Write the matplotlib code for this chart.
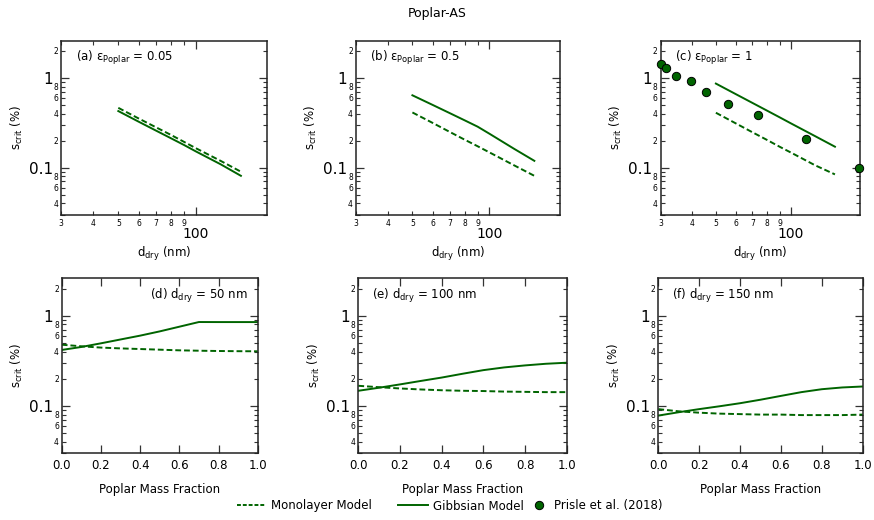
import matplotlib
matplotlib.use("Agg")
import matplotlib.pyplot as plt
from matplotlib.ticker import FixedLocator, FixedFormatter

plt.rcParams["font.family"] = ["DejaVu Sans"]
plt.rcParams["mathtext.default"] = "regular"

GREEN = "#006400"

# top row: s_crit vs dry diameter
d_model = [50, 60, 70, 80, 90, 100, 125, 150]
a_mono = [0.464, 0.353, 0.282, 0.232, 0.194, 0.165, 0.119, 0.090]
a_gibbs = [0.427, 0.325, 0.259, 0.213, 0.179, 0.152, 0.109, 0.081]
b_mono = [0.412, 0.315, 0.250, 0.205, 0.173, 0.148, 0.106, 0.081]
b_gibbs = [0.640, 0.500, 0.405, 0.337, 0.286, 0.239, 0.162, 0.119]
c_mono = [0.409, 0.312, 0.248, 0.204, 0.171, 0.147, 0.106, 0.084]
c_gibbs = [0.865, 0.661, 0.527, 0.433, 0.364, 0.311, 0.224, 0.171]

prisle_d = [30.1, 31.7, 34.5, 39.9, 45.6, 55.9, 73.5, 115, 188]
prisle_s = [1.43, 1.30, 1.05, 0.917, 0.70, 0.517, 0.384, 0.211, 0.10]

# bottom row: s_crit vs Poplar mass fraction
frac = [0.0, 0.1, 0.2, 0.3, 0.4, 0.5, 0.6, 0.7, 0.8, 0.9, 1.0]
d_gibbs = [0.417, 0.450, 0.494, 0.545, 0.601, 0.670, 0.755, 0.851, 0.850, 0.850, 0.850]
d_mono = [0.477, 0.458, 0.443, 0.434, 0.427, 0.420, 0.413, 0.409, 0.406, 0.404, 0.403]
e_gibbs = [0.147, 0.159, 0.173, 0.189, 0.206, 0.227, 0.249, 0.267, 0.281, 0.293, 0.301]
e_mono = [0.167, 0.161, 0.156, 0.152, 0.149, 0.147, 0.146, 0.144, 0.143, 0.142, 0.142]
f_gibbs = [0.078, 0.085, 0.092, 0.099, 0.107, 0.117, 0.129, 0.142, 0.153, 0.160, 0.164]
f_mono = [0.092, 0.087, 0.084, 0.082, 0.081, 0.080, 0.080, 0.079, 0.079, 0.079, 0.080]

top_labels = [r"(a) $\epsilon_{Poplar}$ = 0.05", r"(b) $\epsilon_{Poplar}$ = 0.5", r"(c) $\epsilon_{Poplar}$ = 1"]
bottom_labels = [r"(d) d$_{dry}$ = 50 nm", r"(e) d$_{dry}$ = 100 nm", r"(f) d$_{dry}$ = 150 nm"]

W, H = 874, 520
fig = plt.figure(figsize=(W / 100, H / 100), dpi=100)


def px_axes(left, right, top, bottom):
    return fig.add_axes([left / W, 1 - bottom / H, (right - left) / W, (bottom - top) / H])


top_axes = [px_axes(61.3, 266.7, 40.7, 214.5), px_axes(355.7, 560, 40.7, 214.5), px_axes(660.5, 860, 40.7, 214.5)]
bot_axes = [px_axes(61.7, 257.7, 278.3, 453), px_axes(358.3, 566.7, 278.3, 453), px_axes(658.3, 862.7, 278.3, 453)]

y_minor = [0.03, 0.04, 0.05, 0.06, 0.07, 0.08, 0.09, 0.2, 0.3, 0.4, 0.5, 0.6, 0.7, 0.8, 0.9, 2.0]
y_minor_lab = ["", "4", "", "6", "", "8", "", "2", "", "4", "", "6", "", "8", "", "2"]


def style_y(ax):
    ax.set_yscale("log")
    ax.set_ylim(0.03, 2.6)
    ax.yaxis.set_major_locator(FixedLocator([0.1, 1]))
    ax.yaxis.set_major_formatter(FixedFormatter(["0.1", "1"]))
    ax.yaxis.set_minor_locator(FixedLocator(y_minor))
    ax.yaxis.set_minor_formatter(FixedFormatter(y_minor_lab))
    ax.tick_params(axis="y", which="major", labelsize=11, pad=6)
    ax.tick_params(axis="y", which="minor", labelsize=5.5, pad=2)
    ax.tick_params(which="both", direction="in", top=True, right=True, color="#333333")
    ax.tick_params(which="major", length=6, width=0.9)
    ax.tick_params(which="minor", length=3, width=0.8)
    for sp in ax.spines.values():
        sp.set_linewidth(1.1)
        sp.set_color("#222222")
    ax.set_ylabel(r"s$_{crit}$ (%)", fontsize=8.5, labelpad=3)


for i, ax in enumerate(top_axes):
    style_y(ax)
    ax.set_xscale("log")
    ax.set_xlim(30, 189)
    ax.xaxis.set_major_locator(FixedLocator([100]))
    ax.xaxis.set_major_formatter(FixedFormatter(["100"]))
    ax.xaxis.set_minor_locator(FixedLocator([30, 40, 50, 60, 70, 80, 90]))
    ax.xaxis.set_minor_formatter(FixedFormatter(["3", "4", "5", "6", "7", "8", "9"]))
    ax.tick_params(axis="x", which="major", labelsize=10, pad=9)
    ax.tick_params(axis="x", which="minor", labelsize=5.5, pad=3)
    ax.set_xlabel(r"d$_{dry}$ (nm)", fontsize=8.5, labelpad=3)
    ax.text(0.072, 0.9, top_labels[i], transform=ax.transAxes, fontsize=8.5, va="center", ha="left")

for ax, mono, gibbs in zip(top_axes, [a_mono, b_mono, c_mono], [a_gibbs, b_gibbs, c_gibbs]):
    ax.plot(d_model, mono, color=GREEN, lw=1.4, dashes=(3, 1.5))
    ax.plot(d_model, gibbs, color=GREEN, lw=1.4)

top_axes[2].plot(prisle_d, prisle_s, "o", color=GREEN, mec="black", mew=0.7, ms=6, clip_on=False, zorder=5)

for i, ax in enumerate(bot_axes):
    style_y(ax)
    ax.set_xlim(0, 1)
    ax.set_xticks([0.0, 0.2, 0.4, 0.6, 0.8, 1.0])
    ax.set_xticklabels(["0.0", "0.2", "0.4", "0.6", "0.8", "1.0"])
    ax.tick_params(axis="x", which="major", labelsize=8.5, pad=4)
    ax.set_xlabel("Poplar Mass Fraction", fontsize=8.5, labelpad=8)
    if i == 0:
        ax.text(0.95, 0.9, bottom_labels[i], transform=ax.transAxes, fontsize=8.5, va="center", ha="right")
    else:
        ax.text(0.068, 0.9, bottom_labels[i], transform=ax.transAxes, fontsize=8.5, va="center", ha="left")

for ax, mono, gibbs in zip(bot_axes, [d_mono, e_mono, f_mono], [d_gibbs, e_gibbs, f_gibbs]):
    ax.plot(frac, mono, color=GREEN, lw=1.4, dashes=(3, 1.5))
    ax.plot(frac, gibbs, color=GREEN, lw=1.4)

fig.text(0.5, 1 - 14 / H, "Poplar-AS", ha="center", va="center", fontsize=9)

h_mono, = bot_axes[0].plot([], [], color=GREEN, lw=1.4, dashes=(2, 1))
h_gibbs, = bot_axes[0].plot([], [], color=GREEN, lw=1.4)
h_pts, = bot_axes[0].plot([], [], "o", color=GREEN, mec="black", mew=0.7, ms=6)
fig.legend([h_mono, h_gibbs], ["Monolayer Model", "Gibbsian Model"],
           loc="center left", bbox_to_anchor=(226 / W, 1 - 506 / H), ncol=2, frameon=False,
           fontsize=8.5, handlelength=2.5, columnspacing=2.2, handletextpad=0.45)
fig.legend([h_pts], ["Prisle et al. (2018)"],
           loc="center left", bbox_to_anchor=(522 / W, 1 - 506 / H), frameon=False,
           fontsize=8.5, handlelength=1.0, handletextpad=0.8)

fig.savefig("out.png", dpi=100)
